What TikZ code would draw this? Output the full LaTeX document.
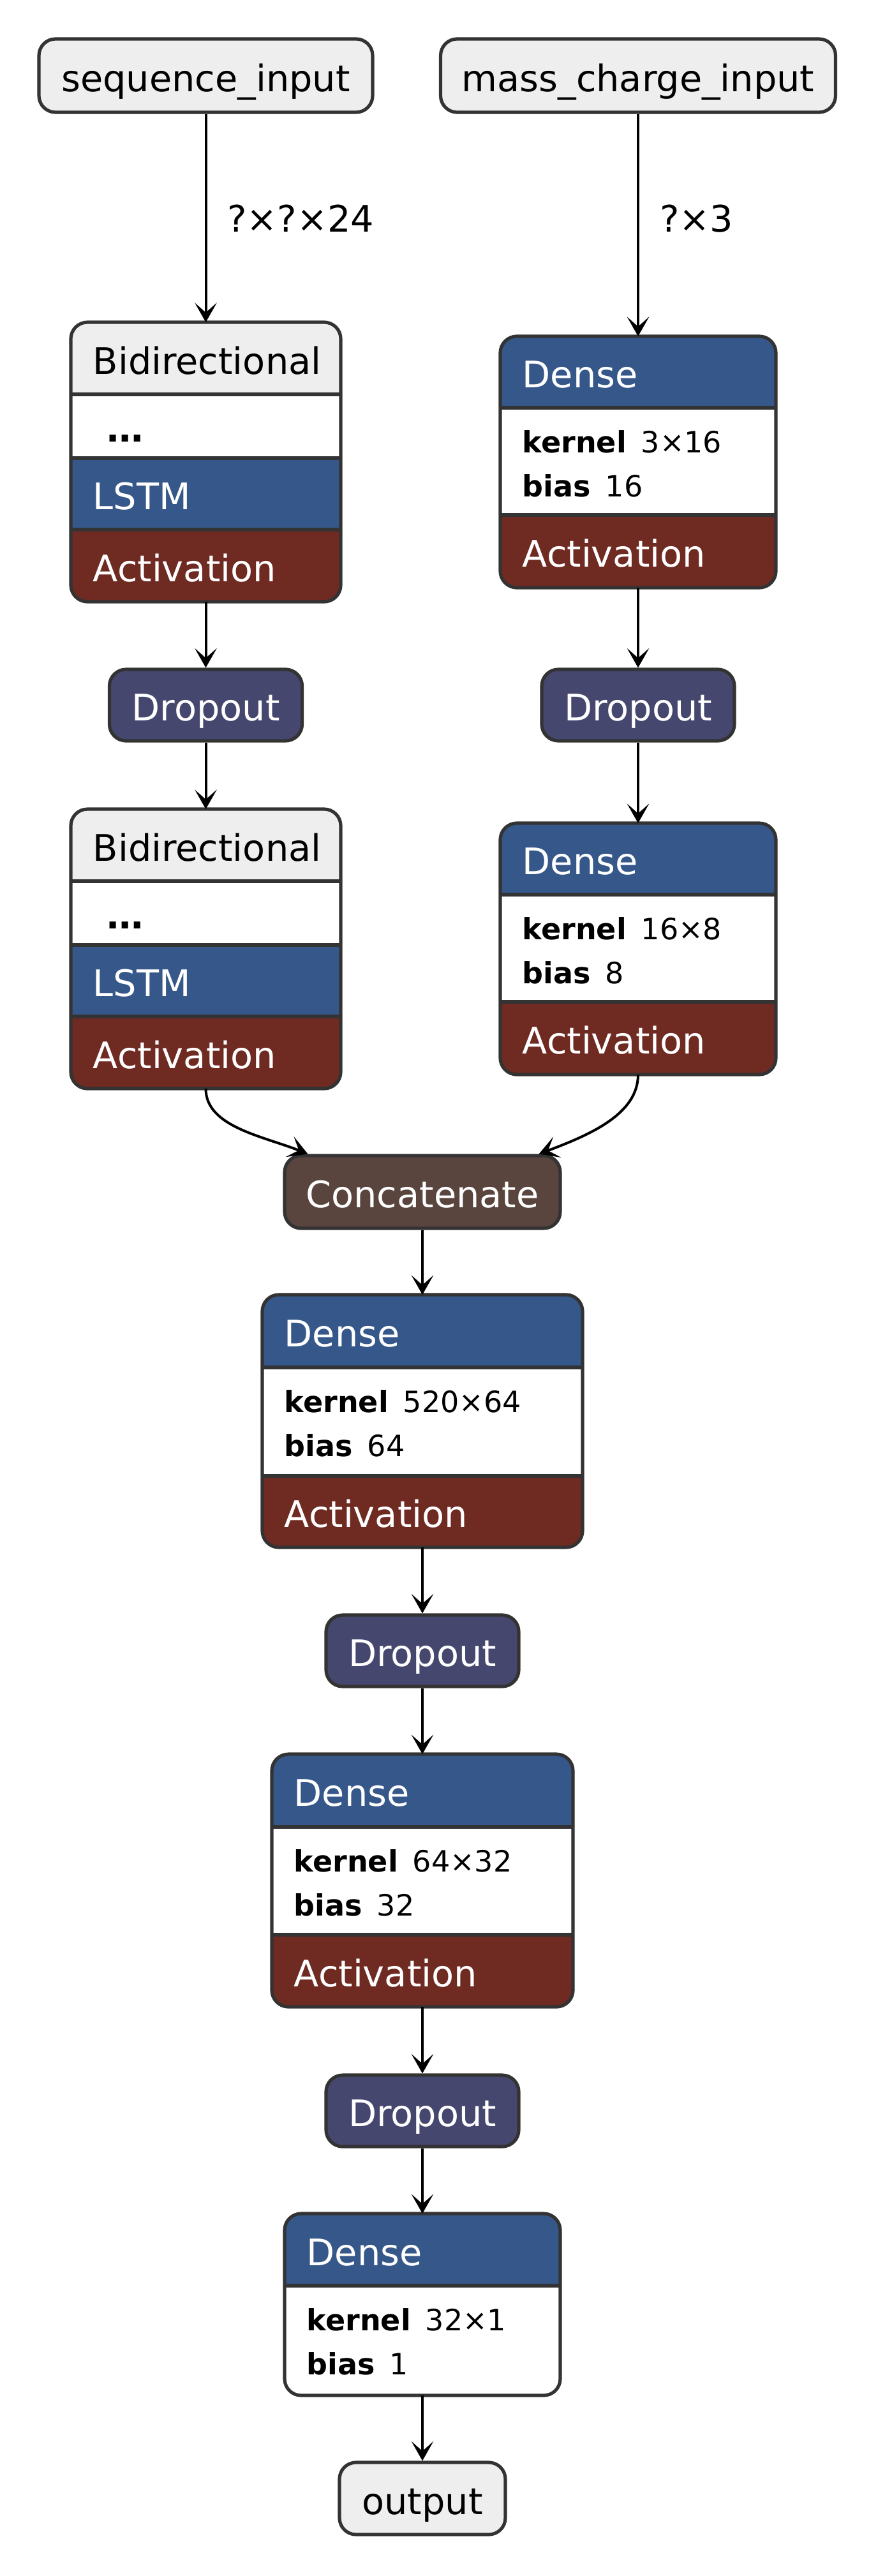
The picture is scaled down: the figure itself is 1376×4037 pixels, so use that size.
\documentclass[tikz,border=0pt]{standalone}
\usepackage{fontspec}
\setmainfont{DejaVu Sans}
\usepackage{tikz}
\usetikzlibrary{arrows.meta,calc}
\definecolor{lightfill}{RGB}{238,238,238}
\definecolor{bordergray}{RGB}{51,51,51}
\definecolor{denseblue}{RGB}{53,87,137}
\definecolor{actred}{RGB}{111,42,34}
\definecolor{dropviolet}{RGB}{69,71,110}
\definecolor{concatbrown}{RGB}{89,69,62}

\begin{document}
\begin{tikzpicture}[x=0.25pt,y=0.25pt,yscale=-1,xscale=1,
  every node/.style={font=\fontsize{14.33pt}{17.25pt}\selectfont},
  simplebox/.style={draw=bordergray, line width=1.3pt, rounded corners=6.5pt, inner sep=0pt, text height=12.3pt, text depth=0pt},
  blockarea/.style={rectangle, inner sep=0pt, outer sep=0pt},
  blockline/.style={draw=bordergray, line width=1.3pt, rounded corners=6.5pt},
  rowline/.style={draw=bordergray, line width=1.3pt},
  rowtext/.style={anchor=west, inner sep=0pt, text height=12.3pt, text depth=0pt},
  paramtext/.style={anchor=base west, inner sep=0pt, font=\fontsize{11.5pt}{17.25pt}\selectfont},
  edgelabel/.style={anchor=base west, inner sep=0pt, xshift=8pt},
  arr/.style={-{Stealth[length=7.6pt,width=8.6pt,inset=3.8pt]}, line width=1pt}]
\useasboundingbox (0,0) rectangle (1376,4037);

% Input and output nodes
\node[simplebox, fill=lightfill, minimum width=130.75pt, minimum height=28.75pt] (seqin) at (322.5,118.5) {sequence\_input};
\node[simplebox, fill=lightfill, minimum width=154.75pt, minimum height=28.75pt] (mcin) at (1000,118.5) {mass\_charge\_input};
\node[simplebox, fill=lightfill, minimum width=65pt, minimum height=28.25pt] (output) at (662,3915.5) {output};

% Dropout and Concatenate nodes
\node[simplebox, fill=dropviolet, text=white, minimum width=75.5pt, minimum height=28pt] (dropA) at (322.5,1105) {Dropout};
\node[simplebox, fill=dropviolet, text=white, minimum width=75.5pt, minimum height=28pt] (dropB) at (1000,1105) {Dropout};
\node[simplebox, fill=concatbrown, text=white, minimum width=108pt, minimum height=28.5pt] (concat) at (662,1868) {Concatenate};
\node[simplebox, fill=dropviolet, text=white, minimum width=75.5pt, minimum height=28pt] (dropC) at (662,2587) {Dropout};
\node[simplebox, fill=dropviolet, text=white, minimum width=75.5pt, minimum height=28pt] (dropD) at (662,3308) {Dropout};

%Shape: Bidirectional block A
\node[blockarea, minimum width=105.75pt, minimum height=109.5pt] (bidirA) at (322.5,724) {};
\begin{scope}
\clip[rounded corners=6.5pt] (bidirA.north west) rectangle (bidirA.south east);
\fill[lightfill] (111,505) rectangle (534,618);
\fill[white] (111,618) rectangle (534,718);
\fill[denseblue] (111,718) rectangle (534,830);
\fill[actred] (111,830) rectangle (534,943);
\end{scope}
\draw[rowline] (111,618) -- (534,618);
\draw[rowline] (111,718) -- (534,718);
\draw[rowline] (111,830) -- (534,830);
\draw[blockline] (bidirA.north west) rectangle (bidirA.south east);
% Text Node
\node[rowtext] (bidirAname) at (145,561.5) {Bidirectional};
\node[rowtext] (bidirAdots) at (167,668) {\textbf{…}};
\node[rowtext, text=white] (bidirAlstm) at (145,774) {LSTM};
\node[rowtext, text=white] (bidirAact) at (145,886.5) {Activation};

%Shape: Bidirectional block B
\node[blockarea, minimum width=105.75pt, minimum height=109.5pt] (bidirB) at (322.5,1487) {};
\begin{scope}
\clip[rounded corners=6.5pt] (bidirB.north west) rectangle (bidirB.south east);
\fill[lightfill] (111,1268) rectangle (534,1381);
\fill[white] (111,1381) rectangle (534,1481);
\fill[denseblue] (111,1481) rectangle (534,1593);
\fill[actred] (111,1593) rectangle (534,1706);
\end{scope}
\draw[rowline] (111,1381) -- (534,1381);
\draw[rowline] (111,1481) -- (534,1481);
\draw[rowline] (111,1593) -- (534,1593);
\draw[blockline] (bidirB.north west) rectangle (bidirB.south east);
% Text Node
\node[rowtext] (bidirBname) at (145,1324.5) {Bidirectional};
\node[rowtext] (bidirBdots) at (167,1431) {\textbf{…}};
\node[rowtext, text=white] (bidirBlstm) at (145,1537) {LSTM};
\node[rowtext, text=white] (bidirBact) at (145,1649.5) {Activation};

%Shape: Dense block A
\node[blockarea, minimum width=108pt, minimum height=98.5pt] (denseA) at (1000,724) {};
\begin{scope}
\clip[rounded corners=6.5pt] (denseA.north west) rectangle (denseA.south east);
\fill[denseblue] (784,527) rectangle (1216,639);
\fill[white] (784,639) rectangle (1216,807);
\fill[actred] (784,807) rectangle (1216,921);
\end{scope}
\draw[rowline] (784,639) -- (1216,639);
\draw[rowline] (784,807) -- (1216,807);
\draw[blockline] (denseA.north west) rectangle (denseA.south east);
% Text Node
\node[rowtext, text=white] (denseAname) at (818,583) {Dense};
\node[paramtext] (denseAkern) at (818,709) {\textbf{kernel}\hspace{0.5em}3×16};
\node[paramtext] (denseAbias) at (818,778) {\textbf{bias}\hspace{0.5em}16};
\node[rowtext, text=white] (denseAact) at (818,864) {Activation};

%Shape: Dense block B
\node[blockarea, minimum width=108pt, minimum height=98.5pt] (denseB) at (1000,1487) {};
\begin{scope}
\clip[rounded corners=6.5pt] (denseB.north west) rectangle (denseB.south east);
\fill[denseblue] (784,1290) rectangle (1216,1402);
\fill[white] (784,1402) rectangle (1216,1570);
\fill[actred] (784,1570) rectangle (1216,1684);
\end{scope}
\draw[rowline] (784,1402) -- (1216,1402);
\draw[rowline] (784,1570) -- (1216,1570);
\draw[blockline] (denseB.north west) rectangle (denseB.south east);
% Text Node
\node[rowtext, text=white] (denseBname) at (818,1346) {Dense};
\node[paramtext] (denseBkern) at (818,1472) {\textbf{kernel}\hspace{0.5em}16×8};
\node[paramtext] (denseBbias) at (818,1541) {\textbf{bias}\hspace{0.5em}8};
\node[rowtext, text=white] (denseBact) at (818,1627) {Activation};

%Shape: Dense block C
\node[blockarea, minimum width=125.5pt, minimum height=99pt] (denseC) at (662,2227) {};
\begin{scope}
\clip[rounded corners=6.5pt] (denseC.north west) rectangle (denseC.south east);
\fill[denseblue] (411,2029) rectangle (913,2143);
\fill[white] (411,2143) rectangle (913,2313);
\fill[actred] (411,2313) rectangle (913,2425);
\end{scope}
\draw[rowline] (411,2143) -- (913,2143);
\draw[rowline] (411,2313) -- (913,2313);
\draw[blockline] (denseC.north west) rectangle (denseC.south east);
% Text Node
\node[rowtext, text=white] (denseCname) at (445,2086) {Dense};
\node[paramtext] (denseCkern) at (445,2213) {\textbf{kernel}\hspace{0.5em}520×64};
\node[paramtext] (denseCbias) at (445,2282) {\textbf{bias}\hspace{0.5em}64};
\node[rowtext, text=white] (denseCact) at (445,2369) {Activation};

%Shape: Dense block D
\node[blockarea, minimum width=118pt, minimum height=99pt] (denseD) at (662,2947) {};
\begin{scope}
\clip[rounded corners=6.5pt] (denseD.north west) rectangle (denseD.south east);
\fill[denseblue] (426,2749) rectangle (898,2863);
\fill[white] (426,2863) rectangle (898,3032);
\fill[actred] (426,3032) rectangle (898,3145);
\end{scope}
\draw[rowline] (426,2863) -- (898,2863);
\draw[rowline] (426,3032) -- (898,3032);
\draw[blockline] (denseD.north west) rectangle (denseD.south east);
% Text Node
\node[rowtext, text=white] (denseDname) at (460,2806) {Dense};
\node[paramtext] (denseDkern) at (460,2933) {\textbf{kernel}\hspace{0.5em}64×32};
\node[paramtext] (denseDbias) at (460,3002) {\textbf{bias}\hspace{0.5em}32};
\node[rowtext, text=white] (denseDact) at (460,3088.5) {Activation};

%Shape: Dense block E
\node[blockarea, minimum width=108pt, minimum height=71.25pt] (denseE) at (662,3611.5) {};
\begin{scope}
\clip[rounded corners=6.5pt] (denseE.north west) rectangle (denseE.south east);
\fill[denseblue] (446,3469) rectangle (878,3582);
\fill[white] (446,3582) rectangle (878,3754);
\end{scope}
\draw[rowline] (446,3582) -- (878,3582);
\draw[blockline] (denseE.north west) rectangle (denseE.south east);
% Text Node
\node[rowtext, text=white] (denseEname) at (480,3525.5) {Dense};
\node[paramtext] (denseEkern) at (480,3652) {\textbf{kernel}\hspace{0.5em}32×1};
\node[paramtext] (denseEbias) at (480,3721) {\textbf{bias}\hspace{0.5em}1};

%Straight Lines
\draw[arr] (seqin) -- node[edgelabel, pos=0.565] (seqshape) {?×?×24} (bidirA);
\draw[arr] (mcin) -- node[edgelabel, pos=0.53] (mcshape) {?×3} (denseA);
\foreach \a/\b in {bidirA/dropA, dropA/bidirB, denseA/dropB, dropB/denseB, concat/denseC, denseC/dropC, dropC/denseD, denseD/dropD, dropD/denseE, denseE/output}
  \draw[arr] (\a) -- (\b);

%Curves into Concatenate
\draw[arr] (bidirB.south) .. controls +(0,60) and +(-70,-28) .. ([xshift=9.75pt]concat.north west);
\draw[arr] (denseB.south) .. controls +(0,62) and +(80,-30) .. ([xshift=-9pt]concat.north east);

\end{tikzpicture}
\end{document}
